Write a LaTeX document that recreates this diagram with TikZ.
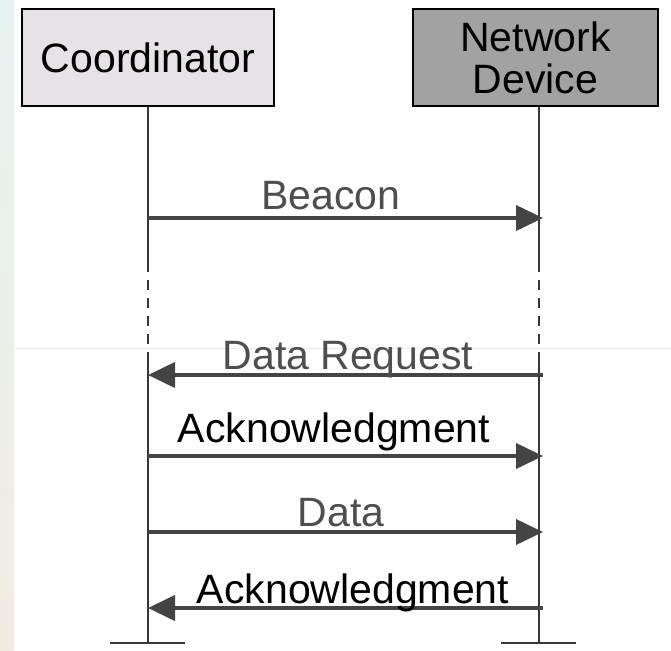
\documentclass[tikz,border=0pt]{standalone}
\usepackage{fontspec}
\setmainfont{Liberation Sans}
\usepackage{xcolor}
\usepackage{tikz}
\usetikzlibrary{arrows.meta,positioning}
\definecolor{coordfill}{RGB}{230,226,230}
\definecolor{devfill}{RGB}{162,162,162}
\definecolor{msggray}{RGB}{68,68,68}
\definecolor{labgray}{RGB}{78,78,78}
\definecolor{lifegray}{RGB}{55,55,55}
\definecolor{striptop}{RGB}{230,242,240}
\definecolor{stripbot}{RGB}{241,236,226}
\definecolor{faint}{RGB}{236,238,234}

\begin{document}
\begin{tikzpicture}[x=0.5pt,y=-0.5pt,
	actor/.style={draw,line width=1pt,minimum height=48.5pt,align=center,font=\fontsize{20.5}{21}\selectfont},
	life/.style={line width=0.75pt,lifegray},
	msg/.style={-{Triangle[length=13.5pt,width=12.5pt]},line width=2pt,msggray},
	lab/.style={anchor=base,font=\fontsize{20.5}{21}\selectfont}]
	\useasboundingbox (0,0) rectangle (671,650);
	\fill[white] (0,0) rectangle (671,650);
	\shade[top color=striptop,bottom color=stripbot] (0,0) rectangle (14,650);
	\draw[faint,line width=0.5pt] (14,348) -- (671,348);
	\node[actor,fill=coordfill,minimum width=126pt] (coord) at (148,57.5) {Coordinator};
	\node[actor,fill=devfill,minimum width=122.5pt] (dev) at (535.5,57.5) {Network\\Device};
	\foreach \n/\x in {c/148,d/539}
	{
		\coordinate (\n1) at (\x,262);
		\coordinate (\n2) at (\x,362);
		\coordinate (\n3) at (\x,643);
		\draw[life] (\x-38,643) -- (\x+37,643);
	}
	\draw[life] (coord.south) -- (c1);
	\draw[life] (dev.south -| d1) -- (d1);
	\draw[life,dash pattern=on 5pt off 4pt] (c1) -- (c2);
	\draw[life,dash pattern=on 5pt off 4pt] (d1) -- (d2);
	\draw[life] (c2) -- (c3);
	\draw[life] (d2) -- (d3);
	\foreach \y/\a/\b/\t/\lx/\ly/\col in {218/c/d/Beacon/331/209/labgray,375/d/c/Data Request/348/369/labgray,456/c/d/Acknowledgment/334/442/black,532/c/d/Data/341/526/labgray,608/d/c/Acknowledgment/353/603/black}
	{
		\coordinate (c\y) at (148,\y);
		\coordinate (d\y) at (543,\y);
		\draw[msg] (\a\y) -- (\b\y);
		\node[lab,text=\col] (lab\y) at (\lx,\ly) {\t};
	}
\end{tikzpicture}
\end{document}
